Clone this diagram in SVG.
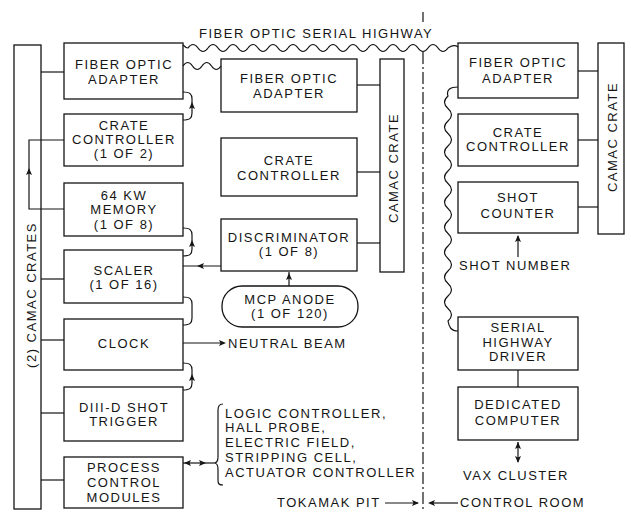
<svg xmlns="http://www.w3.org/2000/svg" xmlns:xlink="http://www.w3.org/1999/xlink" width="631" height="513" viewBox="0 0 631 513">
<style>
.b{fill:none;stroke:#151515;stroke-width:1.3}
.l{fill:none;stroke:#151515;stroke-width:1.2}
.t{font-family:"Liberation Sans",Arial,sans-serif;font-size:13px;letter-spacing:1.5px;fill:#151515}
.c{text-anchor:middle}
.ah{fill:#151515}
</style>
<defs>
<path id="ah" d="M0,0 L-7,-3 L-5.5,0 L-7,3 Z"/>
</defs>
<rect width="631" height="513" fill="#fff"/>

<g id="title">
<text class="t" x="199" y="38">FIBER OPTIC SERIAL HIGHWAY</text>
</g>

<g id="crates-left">
<rect class="b" x="14" y="45" width="27" height="464"/>
<text class="t c" transform="translate(36,295) rotate(-90)">(2) CAMAC CRATES</text>
</g>

<g id="foa-left">
<rect class="b" x="64" y="43" width="119" height="56"/>
<text class="t c" x="124" y="69">FIBER OPTIC</text>
<text class="t c" x="124" y="84">ADAPTER</text>
</g>
<g id="cc-left">
<rect class="b" x="64" y="114" width="119" height="52"/>
<text class="t c" x="124" y="130">CRATE</text>
<text class="t c" x="124" y="144">CONTROLLER</text>
<text class="t c" x="124" y="158">(1 OF 2)</text>
</g>
<g id="memory">
<rect class="b" x="64" y="183" width="119" height="53"/>
<text class="t c" x="124" y="200">64 KW</text>
<text class="t c" x="124" y="214">MEMORY</text>
<text class="t c" x="124" y="229">(1 OF 8)</text>
</g>
<g id="scaler">
<rect class="b" x="64" y="250" width="119" height="53"/>
<text class="t c" x="124" y="275">SCALER</text>
<text class="t c" x="124" y="289">(1 OF 16)</text>
</g>
<g id="clock">
<rect class="b" x="64" y="319" width="119" height="51"/>
<text class="t c" x="124" y="348">CLOCK</text>
</g>
<g id="trigger">
<rect class="b" x="64" y="387" width="119" height="54"/>
<text class="t c" x="124" y="412">DIII-D SHOT</text>
<text class="t c" x="124" y="426">TRIGGER</text>
</g>
<g id="process">
<rect class="b" x="64" y="457" width="119" height="51"/>
<text class="t c" x="124" y="472">PROCESS</text>
<text class="t c" x="124" y="487">CONTROL</text>
<text class="t c" x="124" y="502">MODULES</text>
</g>

<g id="foa-mid">
<rect class="b" x="221" y="59" width="136" height="53"/>
<text class="t c" x="289" y="83">FIBER OPTIC</text>
<text class="t c" x="289" y="98">ADAPTER</text>
</g>
<g id="cc-mid">
<rect class="b" x="221" y="138" width="136" height="58"/>
<text class="t c" x="289" y="165">CRATE</text>
<text class="t c" x="289" y="180">CONTROLLER</text>
</g>
<g id="discriminator">
<rect class="b" x="221" y="219" width="136" height="52"/>
<text class="t c" x="289" y="242">DISCRIMINATOR</text>
<text class="t c" x="289" y="256">(1 OF 8)</text>
</g>
<g id="mcp">
<rect class="b" x="222" y="286" width="136" height="41" rx="20" ry="20"/>
<text class="t c" x="290" y="304">MCP ANODE</text>
<text class="t c" x="290" y="318">(1 OF 120)</text>
</g>
<g id="crate-mid">
<rect class="b" x="380" y="59" width="24" height="213"/>
<text class="t c" transform="translate(398,168) rotate(-90)">CAMAC CRATE</text>
</g>

<g id="foa-right">
<rect class="b" x="458" y="43" width="120" height="55"/>
<text class="t c" x="518" y="67">FIBER OPTIC</text>
<text class="t c" x="518" y="83">ADAPTER</text>
</g>
<g id="cc-right">
<rect class="b" x="458" y="114" width="120" height="52"/>
<text class="t c" x="518" y="137">CRATE</text>
<text class="t c" x="518" y="151">CONTROLLER</text>
</g>
<g id="shot-counter">
<rect class="b" x="458" y="182" width="120" height="51"/>
<text class="t c" x="518" y="202">SHOT</text>
<text class="t c" x="518" y="218">COUNTER</text>
</g>
<g id="crate-right">
<rect class="b" x="598" y="43" width="26" height="191"/>
<text class="t c" transform="translate(617,137) rotate(-90)">CAMAC CRATE</text>
</g>
<g id="shd">
<rect class="b" x="458" y="317" width="120" height="53"/>
<text class="t c" x="518" y="332">SERIAL</text>
<text class="t c" x="518" y="347">HIGHWAY</text>
<text class="t c" x="518" y="361">DRIVER</text>
</g>
<g id="computer">
<rect class="b" x="458" y="387" width="120" height="53"/>
<text class="t c" x="518" y="409">DEDICATED</text>
<text class="t c" x="518" y="425">COMPUTER</text>
</g>

<g id="labels">
<text class="t" x="459" y="270">SHOT NUMBER</text>
<text class="t" x="463" y="480">VAX CLUSTER</text>
<text class="t" x="228" y="348">NEUTRAL BEAM</text>
<text class="t" x="225" y="418">LOGIC CONTROLLER,</text>
<text class="t" x="225" y="432">HALL PROBE,</text>
<text class="t" x="225" y="447">ELECTRIC FIELD,</text>
<text class="t" x="225" y="462">STRIPPING CELL,</text>
<text class="t" x="225" y="477">ACTUATOR CONTROLLER</text>
<text class="t" x="277" y="507">TOKAMAK PIT</text>
<text class="t" x="460" y="507">CONTROL ROOM</text>
</g>

<g id="connectors">
<!-- fiber highways -->
<path class="l" d="M183,45 Q186,48 188,48 q5,-7 10,0 t10,0 t10,0 t10,0 t10,0 t10,0 t10,0 t10,0 t10,0 t10,0 t10,0 t10,0 t10,0 t10,0 t10,0 t10,0 t10,0 t10,0 t10,0 t10,0 t10,0 t10,0 t10,0 t10,0 t10,0 t10,0 Q454,44 458,47"/>
<path class="l" d="M183,66 q4.75,-7 9.5,0 t9.5,0 t9.5,0 t9.5,0"/>
<path class="l" d="M458,87 C450,87 446,90 448,96 q-7,6.25 0,12.5 t0,12.5 t0,12.5 t0,12.5 t0,12.5 t0,12.5 t0,12.5 t0,12.5 t0,12.5 t0,12.5 t0,12.5 t0,12.5 t0,12.5 t0,12.5 t0,12.5 t0,12.5 t0,12.5 t0,12.5 C449,327 451,331 458,331"/>
<!-- divider -->
<line class="l" x1="423" y1="12" x2="423" y2="22"/>
<line class="l" x1="423" y1="52" x2="423" y2="512" stroke-dasharray="12 3 2 3"/>
<!-- crate bar links -->
<line class="l" x1="41" y1="72" x2="64" y2="72"/>
<line class="l" x1="41" y1="279" x2="64" y2="279"/>
<line class="l" x1="41" y1="340" x2="64" y2="340"/>
<line class="l" x1="41" y1="413" x2="64" y2="413"/>
<line class="l" x1="41" y1="480" x2="64" y2="480"/>
<path class="l" d="M64,140 L29,140 L29,209 L64,209"/>
<use href="#ah" class="ah" transform="translate(29,168) rotate(-90)"/>
<!-- side loops -->
<path class="l" d="M183,92 C190,92 192,94 192,99 L192,113 C192,118 190,120 183,120"/>
<use href="#ah" class="ah" transform="translate(192,102) rotate(-90)"/>
<path class="l" d="M183,228 C190,228 192,230 192,235 L192,249 C192,254 190,256 183,256"/>
<use href="#ah" class="ah" transform="translate(192,240) rotate(-90)"/>
<path class="l" d="M183,297 C190,297 192,299 192,304 L192,318 C192,323 190,325 183,325"/>
<path class="l" d="M183,363 C190,363 192,365 192,370 L192,383 C192,388 190,390 183,390"/>
<use href="#ah" class="ah" transform="translate(192,374) rotate(-90)"/>
<!-- discriminator to scaler -->
<line class="l" x1="221" y1="266" x2="183" y2="266"/>
<use href="#ah" class="ah" transform="translate(197,266) rotate(180)"/>
<!-- mcp to discriminator -->
<line class="l" x1="289" y1="286" x2="289" y2="272"/>
<use href="#ah" class="ah" transform="translate(289,273) rotate(-90)"/>
<!-- clock to neutral beam -->
<line class="l" x1="183" y1="343" x2="224" y2="343"/>
<use href="#ah" class="ah" transform="translate(226,343)"/>
<!-- process to brace -->
<line class="l" x1="183" y1="463" x2="214" y2="463"/>
<use href="#ah" class="ah" transform="translate(184,463) rotate(180)"/>
<use href="#ah" class="ah" transform="translate(206,463)"/>
<path class="l" d="M223,404 C219,404 218,406 218,410 L218,457 C218,461 217,463 214,463 C217,463 218,465 218,469 L218,480 C218,484 219,485 223,485"/>
<!-- middle crate links -->
<line class="l" x1="357" y1="85" x2="380" y2="85"/>
<line class="l" x1="357" y1="172" x2="380" y2="172"/>
<line class="l" x1="357" y1="243" x2="380" y2="243"/>
<!-- right crate links -->
<line class="l" x1="578" y1="71" x2="598" y2="71"/>
<line class="l" x1="578" y1="140" x2="598" y2="140"/>
<line class="l" x1="578" y1="207" x2="598" y2="207"/>
<!-- shot number -->
<line class="l" x1="518" y1="257" x2="518" y2="236"/>
<use href="#ah" class="ah" transform="translate(518,235) rotate(-90)"/>
<!-- driver to computer -->
<line class="l" x1="518" y1="370" x2="518" y2="387"/>
<!-- computer to vax -->
<line class="l" x1="518" y1="442" x2="518" y2="462"/>
<use href="#ah" class="ah" transform="translate(518,442) rotate(-90)"/>
<use href="#ah" class="ah" transform="translate(518,463) rotate(90)"/>
<!-- pit / control room -->
<line class="l" x1="385" y1="503" x2="418" y2="503"/>
<use href="#ah" class="ah" transform="translate(419,503)"/>
<line class="l" x1="430" y1="503" x2="458" y2="503"/>
<use href="#ah" class="ah" transform="translate(428,503) rotate(180)"/>
</g>
</svg>
